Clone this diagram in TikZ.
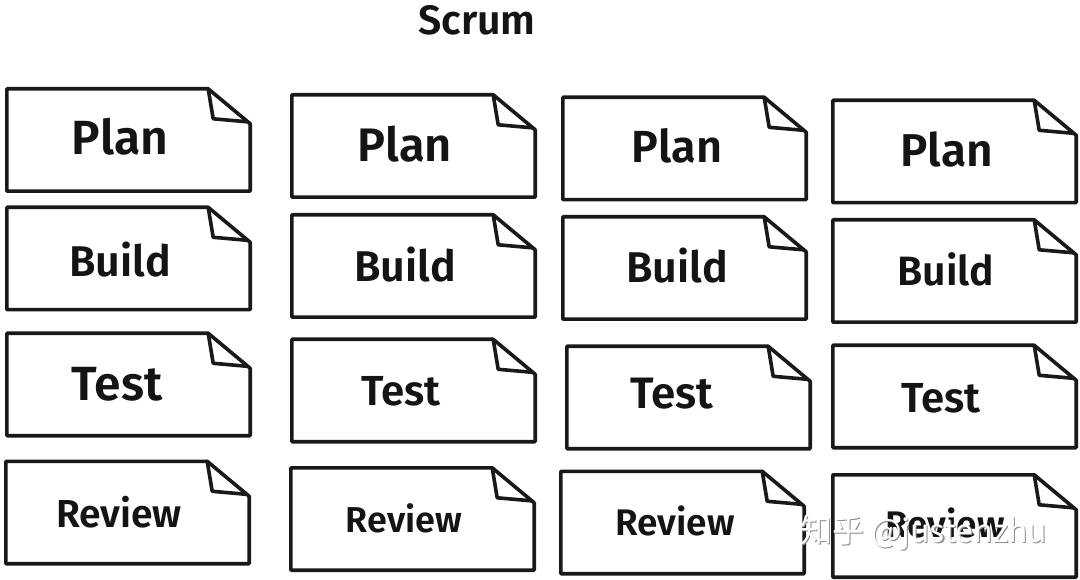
\documentclass[tikz,border=0pt]{standalone}
\usepackage{fontspec}
\IfFontExistsTF{Fira Sans SemiBold}{%
  \setmainfont{Fira Sans}[BoldFont={Fira Sans SemiBold}]}{%
  \setmainfont{Fira Sans}}
\newfontfamily\cjkwm{Noto Sans CJK SC}
\begin{document}
\begin{tikzpicture}[x=1pt,y=-1pt,
  card/.style={minimum width=243pt, minimum height=102pt, inner sep=0pt},
  cardline/.style={draw=black!90, line width=3.6pt, line join=round, line cap=round},
  lbl/.style={anchor=base, inner sep=0pt, text=black!92},
  wmshadow/.style={anchor=base west, inner sep=0pt, text=black!45, font=\cjkwm\fontsize{32}{35}\selectfont},
  wmtext/.style={anchor=base west, inner sep=0pt, text=white, font=\cjkwm\fontsize{32}{35}\selectfont}]
\useasboundingbox[fill=white] (0,0) rectangle (1080,580);

\node[lbl, font=\bfseries\fontsize{41}{44}\selectfont] (title) at (477,35) {Scrum};

% cards
\node[card] (p1) at (128.5,140) {};
\node[card] (b1) at (128.5,258.5) {};
\node[card] (t1) at (128.5,384.5) {};
\node[card] (r1) at (127.5,512.5) {};
\node[card] (p2) at (413.5,146) {};
\node[card] (b2) at (413.5,266) {};
\node[card] (t2) at (413.5,390.5) {};
\node[card] (r2) at (412.5,519) {};
\node[card] (p3) at (684.5,148.5) {};
\node[card] (b3) at (684.5,268) {};
\node[card] (t3) at (688.5,397.5) {};
\node[card] (r3) at (682.5,522.5) {};
\node[card] (p4) at (954.5,151.5) {};
\node[card] (b4) at (954.5,271) {};
\node[card] (t4) at (954.5,396.5) {};
\node[card] (r4) at (954.5,526) {};

\foreach \n in {p1,b1,t1,r1,p2,b2,t2,r2,p3,b3,t3,r3,p4,b4,t4,r4}{
  \draw[cardline] (\n.south west) -- (\n.north west) -- ([xshift=-42pt]\n.north east)
    -- ([yshift=-35pt]\n.north east) -- (\n.south east) -- cycle;
  \draw[cardline] ([xshift=-42pt]\n.north east) -- ([xshift=-37pt,yshift=-30pt]\n.north east)
    -- ([xshift=-3pt,yshift=-33pt]\n.north east);
}

% labels
\node[lbl, font=\bfseries\fontsize{48}{50}\selectfont] (lp1) at (120,155) {Plan};
\node[lbl, font=\bfseries\fontsize{43}{46}\selectfont] (lb1) at (120,277) {Build};
\node[lbl, font=\bfseries\fontsize{48}{50}\selectfont] (lt1) at (117,400) {Test};
\node[lbl, font=\bfseries\fontsize{39}{42}\selectfont] (lr1) at (119,527) {Review};

\node[lbl, font=\bfseries\fontsize{47}{50}\selectfont] (lp2) at (405,162) {Plan};
\node[lbl, font=\bfseries\fontsize{43}{46}\selectfont] (lb2) at (405,282) {Build};
\node[lbl, font=\bfseries\fontsize{42}{44}\selectfont] (lt2) at (401,405) {Test};
\node[lbl, font=\bfseries\fontsize{36}{38}\selectfont] (lr2) at (404,532) {Review};

\node[lbl, font=\bfseries\fontsize{45}{48}\selectfont] (lp3) at (677,163) {Plan};
\node[lbl, font=\bfseries\fontsize{43}{46}\selectfont] (lb3) at (677,283) {Build};
\node[lbl, font=\bfseries\fontsize{44}{46}\selectfont] (lt3) at (672,408) {Test};
\node[lbl, font=\bfseries\fontsize{37}{40}\selectfont] (lr3) at (675,535) {Review};

\node[lbl, font=\bfseries\fontsize{46}{48}\selectfont] (lp4) at (947,167) {Plan};
\node[lbl, font=\bfseries\fontsize{41}{44}\selectfont] (lb4) at (946,286) {Build};
\node[lbl, font=\bfseries\fontsize{42}{44}\selectfont] (lt4) at (941,412) {Test};
\node[lbl, font=\bfseries\fontsize{37}{40}\selectfont] (lr4) at (945,537) {Review};

% watermark
\node[wmshadow] (wms) at (801.2,543.2) {知乎 @justenzhu};
\node[wmtext] (wm) at (800,542) {知乎 @justenzhu};
\end{tikzpicture}
\end{document}
